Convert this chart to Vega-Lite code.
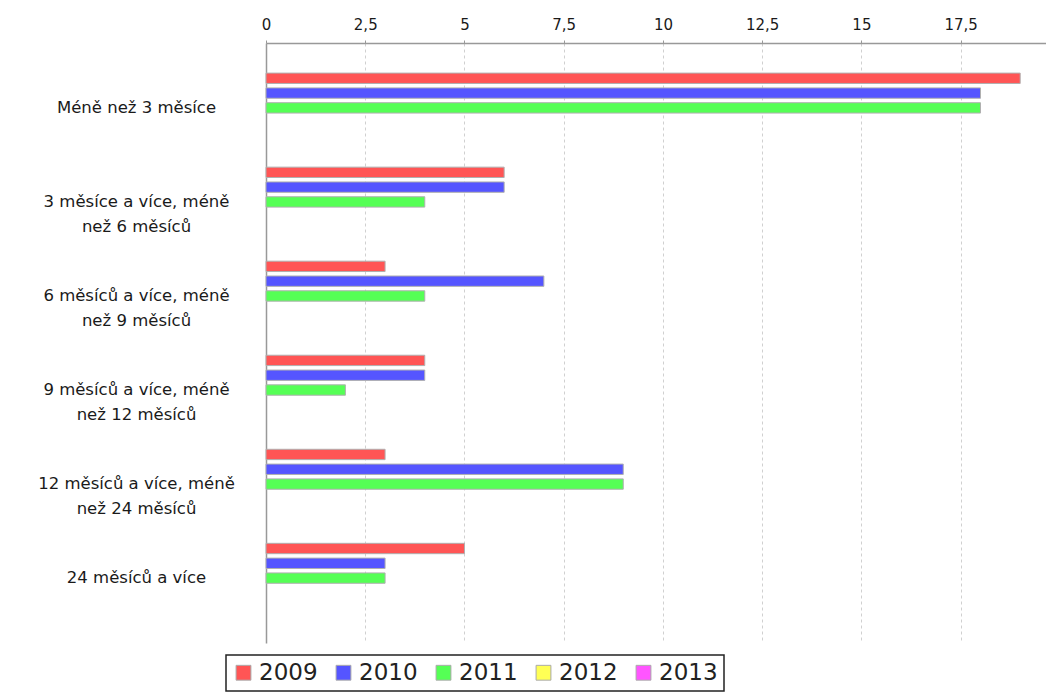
{
  "$schema": "https://vega.github.io/schema/vega-lite/v6.json",
  "autosize": {"type": "none"},
  "width": 780,
  "height": 600,
  "padding": {"left": 266, "top": 43, "right": 0, "bottom": 52},
  "background": "white",
  "config": {"view": {"stroke": null}},
  "data": {
    "values": [
      {"kategorie": "Méně než 3 měsíce", "rok": "2009", "pocet": 19},
      {"kategorie": "Méně než 3 měsíce", "rok": "2010", "pocet": 18},
      {"kategorie": "Méně než 3 měsíce", "rok": "2011", "pocet": 18},
      {"kategorie": "3 měsíce a více, méně než 6 měsíců", "rok": "2009", "pocet": 6},
      {"kategorie": "3 měsíce a více, méně než 6 měsíců", "rok": "2010", "pocet": 6},
      {"kategorie": "3 měsíce a více, méně než 6 měsíců", "rok": "2011", "pocet": 4},
      {"kategorie": "6 měsíců a více, méně než 9 měsíců", "rok": "2009", "pocet": 3},
      {"kategorie": "6 měsíců a více, méně než 9 měsíců", "rok": "2010", "pocet": 7},
      {"kategorie": "6 měsíců a více, méně než 9 měsíců", "rok": "2011", "pocet": 4},
      {"kategorie": "9 měsíců a více, méně než 12 měsíců", "rok": "2009", "pocet": 4},
      {"kategorie": "9 měsíců a více, méně než 12 měsíců", "rok": "2010", "pocet": 4},
      {"kategorie": "9 měsíců a více, méně než 12 měsíců", "rok": "2011", "pocet": 2},
      {"kategorie": "12 měsíců a více, méně než 24 měsíců", "rok": "2009", "pocet": 3},
      {"kategorie": "12 měsíců a více, méně než 24 měsíců", "rok": "2010", "pocet": 9},
      {"kategorie": "12 měsíců a více, méně než 24 měsíců", "rok": "2011", "pocet": 9},
      {"kategorie": "24 měsíců a více", "rok": "2009", "pocet": 5},
      {"kategorie": "24 měsíců a více", "rok": "2010", "pocet": 3},
      {"kategorie": "24 měsíců a více", "rok": "2011", "pocet": 3}
    ]
  },
  "mark": {"type": "bar", "stroke": "#b0b0b0", "strokeWidth": 1},
  "encoding": {
    "y": {
      "field": "kategorie",
      "type": "nominal",
      "sort": null,
      "scale": {
        "domain": [
          "Méně než 3 měsíce",
          "3 měsíce a více, méně než 6 měsíců",
          "6 měsíců a více, méně než 9 měsíců",
          "9 měsíců a více, méně než 12 měsíců",
          "12 měsíců a více, méně než 24 měsíců",
          "24 měsíců a více"
        ],
        "paddingInner": 0.26,
        "paddingOuter": 0.32
      },
      "axis": {
        "title": null,
        "ticks": false,
        "domain": true,
        "domainColor": "#999999",
        "domainWidth": 1.5,
        "labelAlign": "center",
        "labelBaseline": "middle",
        "labelPadding": 130,
        "labelFont": "DejaVu Sans",
        "labelFontSize": 16.5,
        "labelColor": "#1a1a1a",
        "labelLineHeight": 25,
        "labelLimit": 0,
        "labelExpr": "datum.label == '3 měsíce a více, méně než 6 měsíců' ? ['3 měsíce a více, méně', 'než 6 měsíců'] : datum.label == '6 měsíců a více, méně než 9 měsíců' ? ['6 měsíců a více, méně', 'než 9 měsíců'] : datum.label == '9 měsíců a více, méně než 12 měsíců' ? ['9 měsíců a více, méně', 'než 12 měsíců'] : datum.label == '12 měsíců a více, méně než 24 měsíců' ? ['12 měsíců a více, méně', 'než 24 měsíců'] : datum.label"
      }
    },
    "yOffset": {
      "field": "rok",
      "type": "nominal",
      "scale": {"domain": ["2009", "2010", "2011", "2012", "2013"], "paddingInner": 0.3, "paddingOuter": 0}
    },
    "x": {
      "field": "pocet",
      "type": "quantitative",
      "scale": {"domain": [0, 19.65], "nice": false, "zero": true},
      "axis": {
        "orient": "top",
        "title": null,
        "values": [0, 2.5, 5, 7.5, 10, 12.5, 15, 17.5],
        "format": ".3~f",
        "labelExpr": "replace(datum.label, '.', ',')",
        "labelFont": "DejaVu Sans",
        "labelFontSize": 15,
        "labelColor": "#1a1a1a",
        "labelPadding": 8,
        "tickSize": 3,
        "tickColor": "#999999",
        "domainColor": "#999999",
        "domainWidth": 1.5,
        "grid": true,
        "gridColor": "#d0d0d0",
        "gridDash": [3, 3],
        "gridWidth": 1,
        "labelFlush": false
      }
    },
    "color": {
      "field": "rok",
      "type": "nominal",
      "scale": {
        "domain": ["2009", "2010", "2011", "2012", "2013"],
        "range": ["#ff5555", "#5555ff", "#55ff55", "#ffff55", "#ff55ff"]
      },
      "legend": {
        "title": null,
        "orient": "none",
        "legendX": -40,
        "legendY": 612,
        "direction": "horizontal",
        "columns": 5,
        "symbolType": "square",
        "symbolSize": 220,
        "symbolStrokeColor": "#aaaaaa",
        "symbolStrokeWidth": 1,
        "labelFont": "DejaVu Sans",
        "labelFontSize": 23,
        "labelColor": "#222222",
        "labelOffset": 4,
        "columnPadding": 14,
        "strokeColor": "#222222",
        "padding": 6,
        "fillColor": "white",
        "encode": {"legend": {"update": {"strokeWidth": {"value": 1.5}}}}
      }
    }
  }
}
